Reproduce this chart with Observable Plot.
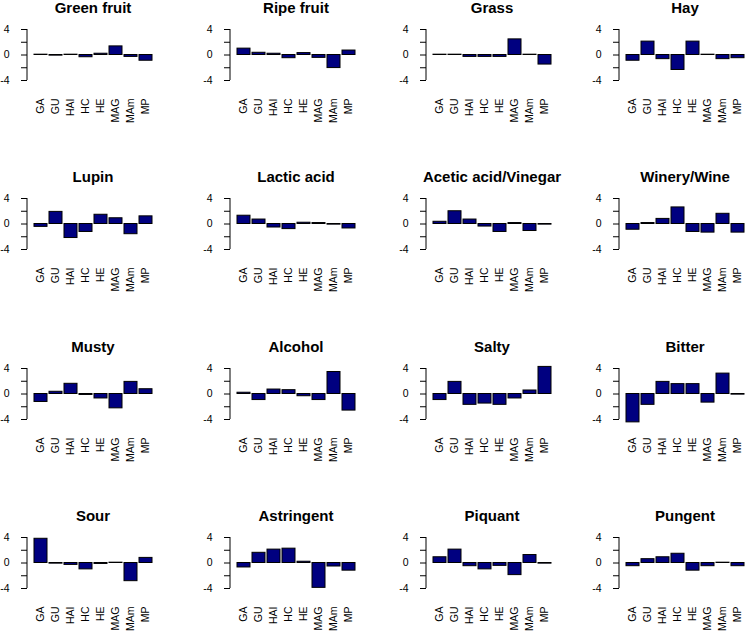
<!DOCTYPE html>
<html>
<head>
<meta charset="utf-8">
<script src="https://cdn.jsdelivr.net/npm/d3@7"></script>
<script src="https://cdn.jsdelivr.net/npm/@observablehq/plot@0.6"></script>
<style>
  body { margin: 0; background: #fff; }
  #chart { position: relative; width: 748px; height: 634px; overflow: hidden; background: #fff;
           font-family: "Liberation Sans", Arial, Helvetica, sans-serif; }
  #chart svg { overflow: visible; max-width: none !important; }
  .panel { position: absolute; }
</style>
</head>
<body>
<div id="chart"></div>
<script>
// ---- data ----
const categories = ["GA", "GU", "HAI", "HC", "HE", "MAG", "MAm", "MP"];
const attributes = ["Green fruit", "Ripe fruit", "Grass", "Hay",
                    "Lupin", "Lactic acid", "Acetic acid/Vinegar", "Winery/Wine",
                    "Musty", "Alcohol", "Salty", "Bitter",
                    "Sour", "Astringent", "Piquant", "Pungent"];
const greenFruit = [0.05, -0.1, 0.05, -0.35, 0.2, 1.35, -0.3, -0.9];
const ripeFruit  = [1.0, 0.35, 0.2, -0.5, 0.3, -0.45, -2.05, 0.7];
const grass      = [0.05, 0.05, -0.3, -0.3, -0.3, 2.45, 0.05, -1.5];
const hay        = [-0.9, 2.1, -0.65, -2.35, 2.1, 0.05, -0.65, -0.5];
const lupin      = [-0.45, 1.9, -2.2, -1.25, 1.45, 0.9, -1.6, 1.2];
const lacticAcid = [1.3, 0.7, -0.55, -0.8, 0.2, 0.15, -0.1, -0.7];
const aceticAcid = [0.35, 2.0, 0.7, -0.4, -1.25, 0.15, -1.1, -0.1];
const wineryWine = [-0.9, 0.15, 0.8, 2.6, -1.25, -1.35, 1.6, -1.35];
const musty      = [-1.25, 0.35, 1.6, -0.15, -0.7, -2.25, 1.9, 0.75];
const alcohol    = [0.2, -0.95, 0.7, 0.6, -0.35, -0.95, 3.45, -2.6];
const salty      = [-0.95, 1.9, -1.7, -1.5, -1.7, -0.7, 0.55, 4.25];
const bitter     = [-4.45, -1.7, 1.9, 1.55, 1.55, -1.35, 3.2, -0.1];
const sour       = [3.8, -0.1, -0.3, -1.0, -0.15, 0.05, -2.85, 0.8];
const astringent = [-0.7, 1.6, 2.1, 2.25, 0.2, -3.9, -0.55, -1.2];
const piquant    = [0.9, 2.1, -0.5, -1.0, -0.45, -1.9, 1.25, -0.1];
const pungent    = [-0.5, 0.6, 0.9, 1.45, -1.2, -0.5, 0.05, -0.5];
const yTicks = [-4, -2, 0, 2, 4];
const yLabelled = [-4, 0, 4];

const series = [greenFruit, ripeFruit, grass, hay, lupin, lacticAcid, aceticAcid, wineryWine,
                musty, alcohol, salty, bitter, sour, astringent, piquant, pungent];

// ---- layout ----
const colAxisX = [27, 230, 426, 619];
const rowTopY = [29, 198, 368, 537];
const ML = 27, MT = 29, INNER_H = 51, BAR_W = 121, INSET = 5, MR = 12, MB = 50;
const FONT = "'Liberation Sans', Arial, Helvetica, sans-serif";

const root = document.getElementById("chart");

attributes.forEach((name, i) => {
  const col = i % 4, row = Math.floor(i / 4);
  const data = categories.map((c, j) => ({cat: c, value: series[i][j]}));
  const width = ML + INSET + BAR_W + INSET + MR;
  const height = MT + INNER_H + MB;
  const chart = Plot.plot({
    width, height,
    marginLeft: ML, marginTop: MT, marginRight: MR, marginBottom: MB,
    style: {background: "transparent", color: "black", fontFamily: FONT, fontSize: "10.5px", overflow: "visible"},
    x: {domain: categories, paddingInner: 1 / 6, paddingOuter: 0, insetLeft: INSET, insetRight: INSET, axis: null},
    y: {domain: [-4, 4], axis: null},
    marks: [
      Plot.barY(data, {x: "cat", y: "value", fill: "#000080", stroke: "black", strokeWidth: 1}),
      Plot.axisY({ticks: yTicks, tickFormat: d => yLabelled.includes(d) ? String(d) : "", label: null,
                  tickSize: 6, tickPadding: 12, fontSize: 10.5, stroke: "black", fill: "black"}),
      Plot.text(categories, {x: d => d, text: d => d, frameAnchor: "bottom", rotate: -90,
                             textAnchor: "end", lineAnchor: "middle", dy: 18, fontSize: 10.5, fill: "black"}),
      Plot.text([name], {text: d => d, frameAnchor: "top", dy: -21, lineAnchor: "middle",
                         fontSize: 15, fontWeight: "bold", fill: "black"})
    ]
  });
  const y = chart.scale("y");
  d3.select(chart).append("line")
    .attr("x1", ML).attr("x2", ML)
    .attr("y1", y.apply(-4)).attr("y2", y.apply(4))
    .attr("stroke", "black").attr("stroke-width", 1);
  const wrap = document.createElement("div");
  wrap.className = "panel";
  wrap.style.left = (colAxisX[col] - ML) + "px";
  wrap.style.top = (rowTopY[row] - MT) + "px";
  wrap.style.width = width + "px";
  wrap.style.height = height + "px";
  wrap.appendChild(chart);
  root.appendChild(wrap);
});
</script>
</body>
</html>
